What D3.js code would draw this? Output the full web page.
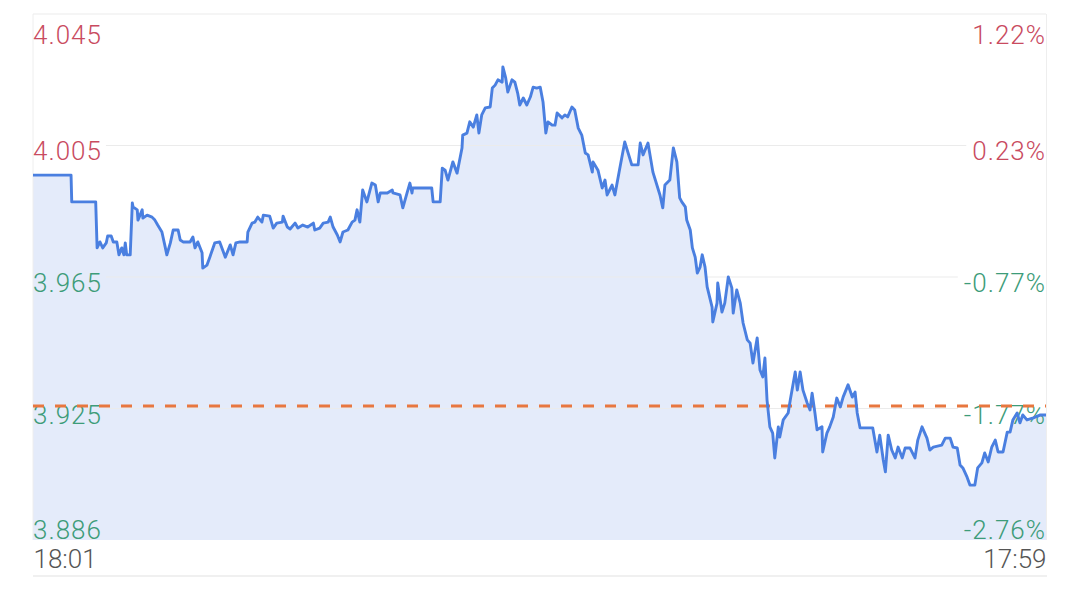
<!DOCTYPE html>
<html><head><meta charset="utf-8">
<script src="https://cdn.jsdelivr.net/npm/d3@7"></script>
<style>
html,body{margin:0;padding:0;background:#fff;}
svg{display:block;font-family:Roboto,"Noto Sans",sans-serif;}
</style></head><body>
<svg id="c" width="1080" height="602"></svg>
<script>
// minutes after 18:01
const minutes = [
0,54,55,89,91,95,99,104,106,111,
114,119,122,126,129,131,133,138,141,142,
148,149,155,156,162,169,173,177,183,187,
190,195,199,206,209,213,223,227,230,234,
240,241,247,251,258,265,273,280,284,288,
294,304,305,311,315,319,325,327,336,341,
346,354,355,361,365,372,376,383,390,398,
400,407,412,419,422,426,432,436,440,447,
453,457,460,464,468,474,481,486,490,493,
503,510,511,521,525,531,535,538,539,549,
566,568,578,581,585,589,596,602,609,610,
616,620,625,630,633,637,642,649,652,656,
660,666,667,671,674,680,684,688,691,696,
701,706,710,715,720,724,728,731,737,741,
744,751,755,759,765,769,774,779,784,788,
794,795,802,808,812,815,822,826,833,840,
850,859,862,866,873,880,890,894,897,904,
909,914,918,921,926,928,933,936,940,943,
947,950,954,957,964,965,971,972,978,982,
987,992,994,999,1004,1008,1014,1018,1022,1028,
1032,1036,1039,1042,1046,1050,1053,1058,1060,1065,
1072,1075,1082,1085,1089,1093,1099,1103,1106,1110,
1113,1120,1121,1127,1131,1136,1141,1146,1150,1157,
1163,1167,1170,1174,1192,1198,1202,1207,1210,1214,
1219,1224,1228,1234,1238,1245,1252,1256,1262,1269,
1273,1278,1290,1295,1302,1306,1312,1316,1320,1326,
1330,1337,1341,1347,1351,1356,1361,1366,1370,1377,
1383,1387,1391,1397,1401,1405,1411,1420,1430,1438];
const prices = [
3.9958,3.9958,3.9877,3.9877,3.9738,3.9756,3.9738,3.9753,3.9774,3.9774,
3.9756,3.9756,3.9717,3.9738,3.9717,3.9753,3.9717,3.9717,3.9874,3.9862,
3.9853,3.9822,3.9853,3.9828,3.9837,3.9831,3.9822,3.9807,3.9786,3.9747,
3.9717,3.9753,3.9792,3.9792,3.9762,3.9756,3.9756,3.9771,3.9738,3.9756,
3.9723,3.9677,3.9686,3.9710,3.9753,3.9756,3.9710,3.9747,3.9717,3.9753,
3.9756,3.9756,3.9786,3.9813,3.9816,3.9831,3.9816,3.9837,3.9834,3.9798,
3.9813,3.9816,3.9834,3.9801,3.9795,3.9813,3.9798,3.9807,3.9801,3.9813,
3.9792,3.9798,3.9813,3.9816,3.9831,3.9801,3.9777,3.9756,3.9786,3.9792,
3.9816,3.9822,3.9853,3.9816,3.9913,3.9877,3.9934,3.9928,3.9877,3.9904,
3.9904,3.9913,3.9904,3.9898,3.9859,3.9904,3.9934,3.9904,3.9919,3.9919,
3.9919,3.9877,3.9877,3.9979,3.9973,3.9943,3.9998,3.9964,4.0040,4.0079,
4.0085,4.0119,4.0103,4.0140,4.0085,4.0140,4.0161,4.0164,4.0221,4.0230,
4.0246,4.0239,4.0285,4.0252,4.0209,4.0246,4.0239,4.0206,4.0170,4.0191,
4.0170,4.0194,4.0224,4.0221,4.0224,4.0179,4.0085,4.0119,4.0109,4.0109,
4.0146,4.0131,4.0140,4.0134,4.0164,4.0155,4.0100,4.0079,4.0025,4.0019,
3.9967,3.9998,3.9973,3.9919,3.9943,3.9898,3.9928,3.9898,3.9979,4.0058,
3.9989,3.9989,4.0055,4.0019,4.0055,3.9967,3.9898,3.9859,3.9928,3.9943,
4.0040,3.9998,3.9889,3.9877,3.9862,3.9822,3.9792,3.9738,3.9710,3.9662,
3.9680,3.9717,3.9680,3.9620,3.9559,3.9514,3.9571,3.9632,3.9544,3.9571,
3.9650,3.9617,3.9541,3.9611,3.9571,3.9511,3.9460,3.9450,3.9390,3.9466,
3.9369,3.9348,3.9405,3.9278,3.9197,3.9178,3.9103,3.9197,3.9166,3.9218,
3.9239,3.9278,3.9363,3.9308,3.9363,3.9308,3.9269,3.9248,3.9299,3.9239,
3.9188,3.9197,3.9121,3.9178,3.9197,3.9227,3.9284,3.9257,3.9287,3.9324,
3.9287,3.9302,3.9239,3.9194,3.9194,3.9121,3.9172,3.9097,3.9061,3.9172,
3.9127,3.9103,3.9136,3.9103,3.9133,3.9133,3.9103,3.9157,3.9197,3.9163,
3.9127,3.9136,3.9142,3.9163,3.9163,3.9136,3.9133,3.9082,3.9073,3.9045,
3.9021,3.9021,3.9073,3.9088,3.9118,3.9091,3.9136,3.9157,3.9121,3.9121,
3.9181,3.9181,3.9218,3.9239,3.9209,3.9233,3.9218,3.9224,3.9233,3.9233];

const priceLabels = ["4.045","4.005","3.965","3.925","3.886"];
const pctLabels = ["1.22%","0.23%","-0.77%","-1.77%","-2.76%"];
const timeLabels = ["18:01","17:59"];
const timeTickMinutes = [0,1438];
const priceDomain = [3.8855, 4.0445];
const refPrice = 3.926;

const L = 33, R = 1046, T = 14, B = 540, AX = 576;
const RED = "#c94b5f", GREEN = "#3d9c79", GRAY = "#555", GRID = "#ebebeb";
const FONT = "Roboto, 'Noto Sans', sans-serif";

const svg = d3.select("#c");
const x = d3.scaleLinear().domain([0, 1438]).range([L, R]);
const y = d3.scaleLinear().domain(priceDomain).range([B, T]);
const n = Math.min(minutes.length, prices.length);
const data = d3.range(n).map(i => ({m: minutes[i], p: prices[i]}));
const tickVals = d3.range(5).map(i => priceDomain[1] - i * (priceDomain[1] - priceDomain[0]) / 4);
const labColor = i => i < 2 ? RED : GREEN;
const baseOff = [29, 14, 14, 14.5, -2];

// area
svg.append("path").datum(data)
  .attr("fill", "#e4ebfa")
  .attr("d", d3.area().x(d => x(d.m)).y0(B).y1(d => y(d.p)));

// borders
svg.append("line").attr("x1", L).attr("x2", R).attr("y1", T).attr("y2", T).attr("stroke", GRID).attr("stroke-width", 1);
svg.append("line").attr("x1", L).attr("x2", L).attr("y1", T).attr("y2", B).attr("stroke", "#eeeeee").attr("stroke-width", 1);
svg.append("line").attr("x1", R+0.5).attr("x2", R+0.5).attr("y1", T).attr("y2", B).attr("stroke", "#eeeeee").attr("stroke-width", 1);
svg.append("line").attr("x1", L).attr("x2", R+1).attr("y1", AX).attr("y2", AX).attr("stroke", "#e2e2e2").attr("stroke-width", 1.2);

const gridG = svg.append("g");

function styleLabels(sel, anchor) {
  sel.attr("dy", null).attr("x", 0)
    .attr("y", (d, i) => baseOff[i])
    .attr("text-anchor", anchor)
    .attr("fill", (d, i) => labColor(i))
    .style("font-size", "26px").style("letter-spacing", "1px")
    .style("font-weight", "300")
    .style("font-family", FONT);
}

// left axis labels
const leftAx = svg.append("g").attr("transform", `translate(${L},0)`)
  .call(d3.axisRight(y).tickValues(tickVals).tickSize(0).tickPadding(0).tickFormat((d, i) => priceLabels[i]));
leftAx.select(".domain").remove();
styleLabels(leftAx.selectAll("text"), "start");

// right axis labels
const rightAx = svg.append("g").attr("transform", `translate(${R},0)`)
  .call(d3.axisLeft(y).tickValues(tickVals).tickSize(0).tickPadding(0).tickFormat((d, i) => pctLabels[i]));
rightAx.select(".domain").remove();
styleLabels(rightAx.selectAll("text"), "end");

// interior grid lines between labels
const lNodes = leftAx.selectAll("text").nodes();
const rNodes = rightAx.selectAll("text").nodes();
[1, 2, 3].forEach(i => {
  const lb = lNodes[i].getBBox();
  const rb = rNodes[i].getBBox();
  const x1 = L + lb.x + lb.width + 4;
  const x2 = R + rb.x - 6;
  gridG.append("line").attr("x1", x1).attr("x2", x2)
    .attr("y1", y(tickVals[i])).attr("y2", y(tickVals[i]))
    .attr("stroke", GRID).attr("stroke-width", 1);
});

// time axis
const xAx = svg.append("g").attr("transform", `translate(0,${B})`)
  .call(d3.axisBottom(x).tickValues(timeTickMinutes).tickSize(0).tickPadding(0).tickFormat((d, i) => timeLabels[i]));
xAx.select(".domain").remove();
xAx.selectAll("text")
  .attr("dy", null).attr("y", 28)
  .attr("text-anchor", (d, i) => i === 0 ? "start" : "end")
  .attr("fill", GRAY)
  .style("font-size", "26px")
  .style("font-weight", "300")
  .style("font-family", FONT);

// reference dashed line
svg.append("line")
  .attr("x1", L).attr("x2", R)
  .attr("y1", y(refPrice)).attr("y2", y(refPrice))
  .attr("stroke", "#e8773f").attr("stroke-width", 2.8)
  .attr("stroke-dasharray", "11,11");

// price line
svg.append("path").datum(data)
  .attr("fill", "none")
  .attr("stroke", "#4a7fe0")
  .attr("stroke-width", 2.9)
  .attr("stroke-linejoin", "round")
  .attr("d", d3.line().x(d => x(d.m)).y(d => y(d.p)));
</script>
</body></html>
